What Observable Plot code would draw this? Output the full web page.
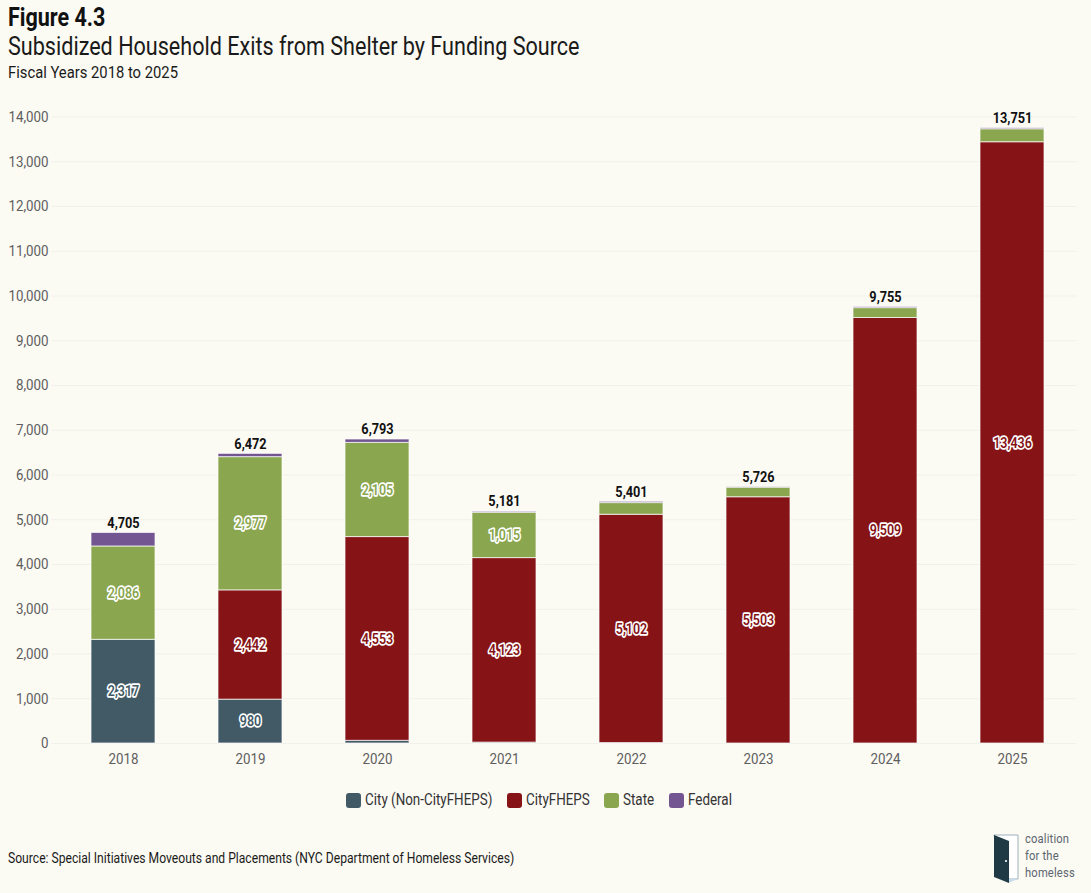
<!DOCTYPE html>
<html>
<head>
<meta charset="utf-8">
<script src="https://cdn.jsdelivr.net/npm/d3@7"></script>
<script src="https://cdn.jsdelivr.net/npm/@observablehq/plot@0.6"></script>
<style>
html,body{margin:0;padding:0;background:#fbfaf3;}
body{width:1091px;height:893px;position:relative;overflow:hidden;font-family:Roboto,sans-serif;color:#111;}
.abs{position:absolute;white-space:nowrap;}
#chart{position:absolute;left:0;top:100px;}
#chart svg{background:transparent;display:block;}
.sw{display:inline-block;width:15px;height:15px;border-radius:3px;margin-right:4px;flex:none;}
#legend{display:flex;align-items:center;top:791px;left:346px;font-size:15.6px;color:#333;}
#legend .item{display:flex;align-items:center;margin-right:14.5px;}
</style>
</head>
<body>
<div class="abs cond" style="left:8px;top:3px;font-size:25px;font-weight:700;line-height:30px;">Figure 4.3</div>
<div class="abs cond" style="left:8px;top:32px;font-size:25.1px;line-height:30px;color:#1a1a1a;">Subsidized Household Exits from Shelter by Funding Source</div>
<div class="abs cond" style="left:8px;top:62px;font-size:17.2px;line-height:20px;color:#1a1a1a;">Fiscal Years 2018 to 2025</div>
<div id="chart"></div>
<div id="legend" class="abs"></div>
<div class="abs cond" style="left:8px;top:849px;font-size:14.1px;line-height:18px;color:#1a1a1a;">Source: Special Initiatives Moveouts and Placements (NYC Department of Homeless Services)</div>
<svg class="abs" style="left:990px;top:830px;" width="32" height="56" viewBox="0 0 32 56">
  <path d="M4 5H28V49H14Z" fill="#fff" stroke="#9db0bd" stroke-width="1"/>
  <path d="M14 49L28 49L18 53Z" fill="#c5dcec"/>
  <path d="M4 5L19 11V53L4 47Z" fill="#1f3a44"/>
  <circle cx="16" cy="31" r="1.1" fill="#fff"/>
</svg>
<div class="abs" style="left:1025px;top:830px;font-size:13px;line-height:17px;color:#5c6670;letter-spacing:.2px;">
  <div class="cond">coalition</div><div class="cond">for the</div><div class="cond">homeless</div>
</div>
<script>
const years = ["2018","2019","2020","2021","2022","2023","2024","2025"];
const sources = ["City (Non-CityFHEPS)","CityFHEPS","State","Federal"];
const colors = ["#425a66","#861417","#8aa64e","#735591"];
const cityNonFheps = [2317,980,60,20,10,0,0,0];
const cityFheps = [0,2442,4553,4123,5102,5503,9509,13436];
const state = [2086,2977,2105,1015,260,215,220,290];
const federal = [302,73,75,23,29,8,26,25];
const totals = [4705,6472,6793,5181,5401,5726,9755,13751];
const yTicks = [0,1000,2000,3000,4000,5000,6000,7000,8000,9000,10000,11000,12000,13000,14000];
const labelMin = 900;

const seriesValues = [cityNonFheps,cityFheps,state,federal];
const rows = sources.flatMap((s,i)=>years.map((y,j)=>({year:y,source:s,value:seriesValues[i][j]})));
const totalRows = years.map((y,j)=>({year:y,total:totals[j]}));
const fmt = d3.format(",");
const FONT = "Roboto, sans-serif";

const plot = Plot.plot({
  width:1091,height:680,
  marginLeft:58.5,marginRight:14.5,marginTop:16.5,marginBottom:37,
  style:{background:"transparent",fontFamily:FONT,fontSize:"15.5px",color:"#5e5e5e"},
  x:{domain:years,paddingInner:0.5,paddingOuter:0.25,label:null,tickSize:0,tickPadding:9},
  y:{domain:[0,14000],label:null,ticks:yTicks,tickFormat:fmt,tickSize:0,tickPadding:10.5,grid:false},
  color:{domain:sources,range:colors},
  marks:[
    Plot.ruleY(yTicks,{stroke:"#f1f1ec",strokeWidth:1,insetLeft:-7}),
    Plot.barY(rows,{x:"year",y:"value",fill:"source",order:sources,stroke:"#fff",strokeOpacity:.7,strokeWidth:1}),
    Plot.text(rows,Plot.stackY({x:"year",y:"value",z:"source",order:sources,
      text:d=>d.value>=labelMin?fmt(d.value):"",
      fill:"source",stroke:"#fff",strokeWidth:3.4,fontSize:14.5,fontWeight:600,paintOrder:"stroke"})),
    Plot.text(totalRows,{x:"year",y:"total",text:d=>fmt(d.total),dy:-10,fill:"#111",fontWeight:700,fontSize:14.8})
  ]
});
document.getElementById("chart").append(plot);

const legend = document.getElementById("legend");
sources.forEach((s,i)=>{
  const it=document.createElement("div");it.className="item";
  const sw=document.createElement("span");sw.className="sw";sw.style.background=colors[i];
  const t=document.createElement("span");t.className="cond";t.textContent=s;
  it.append(sw,t);legend.append(it);
});

const K=0.86;
document.querySelectorAll(".cond").forEach(el=>{
  el.style.display="block";
  if(el.parentElement.classList.contains("item")) el.style.display="inline-block";
  const w=el.getBoundingClientRect().width;
  el.style.width=w+"px";
  el.style.transformOrigin="left center";
  el.style.transform=`scaleX(${K})`;
  el.style.marginRight=(-(1-K)*w)+"px";
});
plot.querySelectorAll("text").forEach(t=>{
  const len=t.getComputedTextLength();
  if(len>0){t.setAttribute("textLength",(len*K).toFixed(2));t.setAttribute("lengthAdjust","spacingAndGlyphs");}
});
</script>
</body>
</html>
